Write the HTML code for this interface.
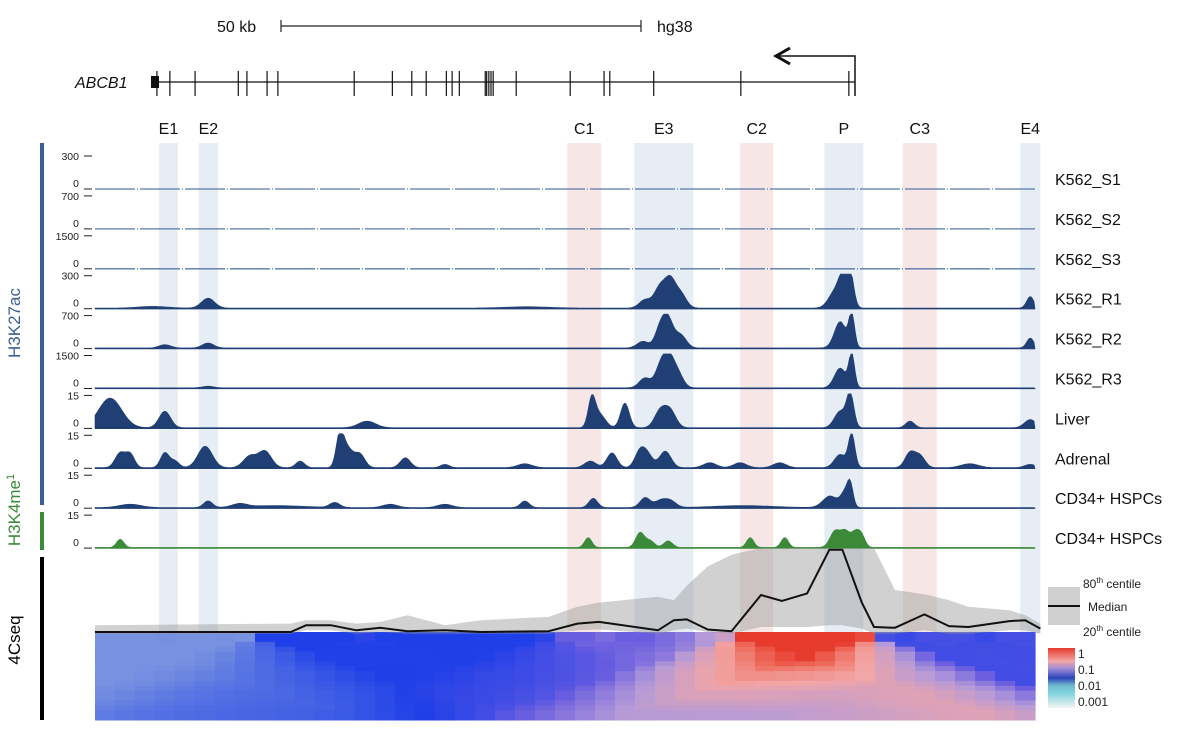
<!DOCTYPE html>
<html><head><meta charset="utf-8"><style>
html,body{margin:0;padding:0;background:#fff}
svg{display:block;font-family:"Liberation Sans",Arial,sans-serif}
</style></head><body>
<svg id="fig" width="1200" height="740" viewBox="0 0 1200 740">
  <g>
    <text x="217" y="32" font-size="16" fill="#111">50 kb</text>
    <line x1="281" y1="26" x2="641" y2="26" stroke="#222" stroke-width="1.2"/>
    <line x1="281" y1="20" x2="281" y2="32" stroke="#222" stroke-width="1.2"/>
    <line x1="641" y1="20" x2="641" y2="32" stroke="#222" stroke-width="1.2"/>
    <text x="657" y="32" font-size="16" fill="#111">hg38</text>
  </g>
  <g id="gene">
    <text x="75" y="88" font-size="16" font-style="italic" fill="#111">ABCB1</text>
    <line x1="152" y1="82" x2="855" y2="82" stroke="#111" stroke-width="1.3"/>
    <rect x="151" y="76" width="8" height="12" fill="#111"/>
    <path d="M855 96 L855 56 L778 56" fill="none" stroke="#111" stroke-width="1.5"/>
    <path d="M790 48 L776 56 L790 64" fill="none" stroke="#111" stroke-width="3"/>
  </g>
  <g id="bands"></g>
  <g id="tracks"></g>
  <g id="fourc"></g>
  <g>
    <rect x="40" y="143" width="4" height="362" fill="#3a5f94"/>
    <rect x="40" y="512" width="4" height="38" fill="#3a8a3a"/>
    <rect x="40" y="557" width="4" height="163" fill="#000"/>
    <text transform="translate(20,323) rotate(-90)" text-anchor="middle" font-size="17" fill="#3a5f94">H3K27ac</text>
    <text transform="translate(20,510) rotate(-90)" text-anchor="middle" font-size="17" fill="#3a8a3a">H3K4me<tspan font-size="11" dy="-6">1</tspan></text>
    <text transform="translate(20,640) rotate(-90)" text-anchor="middle" font-size="17" fill="#000">4Cseq</text>
  </g>
  <g>
    <rect x="1048" y="587" width="32" height="38" fill="#cfcfcf"/>
    <line x1="1048" y1="606" x2="1080" y2="606" stroke="#111" stroke-width="2"/>
    <text x="1083" y="588" font-size="12" fill="#222">80<tspan font-size="8" dy="-5">th</tspan><tspan dy="5"> centile</tspan></text>
    <text x="1088" y="611" font-size="12" fill="#222">Median</text>
    <text x="1083" y="636" font-size="12" fill="#222">20<tspan font-size="8" dy="-5">th</tspan><tspan dy="5"> centile</tspan></text>
    <defs><linearGradient id="cbar" x1="0" y1="0" x2="0" y2="1">
      <stop offset="0" stop-color="#e63a2c"/><stop offset="0.22" stop-color="#f2a6a6"/>
      <stop offset="0.35" stop-color="#9a8ad8"/><stop offset="0.5" stop-color="#2a44b8"/>
      <stop offset="0.62" stop-color="#6fb8d0"/><stop offset="0.75" stop-color="#7fd4dc"/>
      <stop offset="1" stop-color="#f4f4f4"/></linearGradient></defs>
    <rect x="1048" y="648" width="27" height="60" fill="url(#cbar)"/>
    <text x="1078" y="658" font-size="12" fill="#222">1</text>
    <text x="1078" y="674" font-size="12" fill="#222">0.1</text>
    <text x="1078" y="690" font-size="12" fill="#222">0.01</text>
    <text x="1078" y="706" font-size="12" fill="#222">0.001</text>
  </g>
</svg>
<script>
// ---------- data ----------
const exonKb = [8.6,10.4,13.9,19.9,21.1,23.9,25.4,36.0,41.3,44.0,46.0,48.8,49.6,50.6,54.2,54.4,54.7,55.0,55.3,58.5,66.0,70.7,71.5,77.6,89.7,104.7];
const bandNames = ["E1","E2","C1","E3","C2","P","C3","E4"];
const bandStart = [8.9,14.4,65.6,74.9,89.6,101.3,112.2,128.5];
const bandEnd   = [11.5,17.1,70.3,83.1,94.2,106.7,116.9,131.3];
const bandKind  = ["e","e","c","e","c","e","c","e"];
const trackNames = ["K562_S1","K562_S2","K562_S3","K562_R1","K562_R2","K562_R3","Liver","Adrenal","CD34+ HSPCs","CD34+ HSPCs"];
const trackMax   = ["300","700","1500","300","700","1500","15","15","15","15"];
const trackEmpty = [true,true,true,false,false,false,false,false,false,false];
const trackGreen = [false,false,false,false,false,false,false,false,false,true];
const peaksR1 = [[15.7,0.3,0.9],[76.4,0.25,0.8],[78.5,0.65,0.8],[79.9,0.75,0.7],[81.3,0.45,0.8],[102.8,0.5,0.9],[103.9,0.8,0.6],[104.9,1.0,0.5],[129.9,0.35,0.5],[8,0.05,2],[60,0.04,3]];
const peaksR2 = [[9.7,0.1,0.8],[15.7,0.15,0.8],[76.1,0.2,0.8],[78.5,0.6,0.7],[79.6,0.8,0.7],[81.3,0.4,0.8],[103.5,0.8,0.8],[105.1,1.0,0.4],[129.9,0.3,0.5]];
const peaksR3 = [[15.7,0.05,0.8],[76.4,0.3,0.8],[78.5,0.6,0.7],[79.6,0.8,0.7],[80.8,0.5,0.8],[103.5,0.6,0.8],[105.1,1.0,0.4]];
const peaksLiver = [[2.1,0.9,1.6],[9.7,0.5,0.8],[37.8,0.2,1.2],[69.0,0.85,0.5],[70.1,0.4,0.8],[73.6,0.75,0.6],[78.5,0.5,0.8],[79.9,0.5,0.8],[103.5,0.5,0.8],[104.9,1.0,0.5],[113.2,0.2,0.6],[129.9,0.25,0.8]];
const peaksAdrenal = [[3.5,0.45,0.7],[4.9,0.4,0.6],[9.7,0.45,0.6],[11.1,0.2,0.6],[15.3,0.65,1.0],[21.5,0.35,0.9],[23.6,0.5,0.9],[28.5,0.2,0.6],[34.0,0.9,0.5],[35.0,0.6,0.8],[36.8,0.4,0.7],[43.1,0.3,0.7],[48.6,0.1,0.6],[59.7,0.12,1.0],[68.8,0.2,0.8],[71.8,0.45,0.7],[75.7,0.5,0.7],[76.8,0.35,0.7],[79.2,0.5,0.8],[85.4,0.15,0.9],[89.6,0.15,0.9],[95.1,0.15,0.9],[103.5,0.4,0.8],[105.1,1.0,0.45],[113.2,0.45,0.7],[114.6,0.35,0.7],[121.5,0.12,1.2],[129.9,0.1,0.8]];
const peaksCD34 = [[4.9,0.1,1.5],[15.7,0.2,0.6],[20.1,0.1,1],[33.3,0.15,0.7],[41,0.1,1],[48.6,0.1,1],[59.7,0.2,0.6],[69.2,0.28,0.6],[76.4,0.3,0.7],[78.5,0.2,0.8],[79.9,0.2,0.8],[102.1,0.35,1.0],[104.2,0.45,0.6],[104.9,0.6,0.4],[90,0.06,4],[25,0.06,4]];
const peaksK4 = [[3.5,0.25,0.5],[68.5,0.3,0.5],[75.7,0.45,0.6],[77.1,0.2,0.6],[79.6,0.2,0.6],[91.0,0.3,0.5],[95.8,0.3,0.5],[102.8,0.5,0.7],[104.2,0.45,0.6],[105.6,0.45,0.6],[106.5,0.3,0.5]];
const trackPeaks = [[],[],[],peaksR1,peaksR2,peaksR3,peaksLiver,peaksAdrenal,peaksCD34,peaksK4];
// 4C-seq summary (kb, normalized units)
const c4Kb     = [0,27.2,29.3,32.8,36.3,39.7,43.4,48.6,53.6,63,67,70,78.2,80.4,82.2,85.1,88.4,92.5,95.4,98.9,102,103.8,106.5,108.2,111.1,115.2,118.6,121.3,127,129.2,131.3];
const c4Median = [0,0,0.08,0.08,0.02,0.05,0.01,0.02,0,0.01,0.1,0.12,0.02,0.14,0.15,0.03,0.01,0.44,0.37,0.46,0.98,0.98,0.35,0.06,0.05,0.21,0.07,0.06,0.13,0.14,0.04];
const c4Upper  = [0.08,0.1,0.14,0.14,0.1,0.12,0.2,0.08,0.14,0.18,0.3,0.35,0.42,0.38,0.55,0.78,0.92,1.0,1.0,1.0,1.0,1.0,1.0,1.0,0.5,0.45,0.38,0.3,0.26,0.2,0.1];
const c4Lower  = [-0.02,-0.02,0.02,0.02,-0.02,0,-0.02,-0.02,-0.02,-0.02,0.02,0.03,-0.02,0.02,0.04,0,-0.02,0.06,0.06,0.06,0.08,0.08,0.04,-0.02,-0.02,0.02,-0.02,-0.02,0.02,0.02,-0.02];
const heatProfile = [0.1,0.1,0.1,0.12,0.1,0.1,0.12,0.1,0.3,0.3,0.3,0.3,0.3,0.32,0.3,0.3,0.3,0.3,0.3,0.3,0.3,0.3,0.32,0.42,0.42,0.45,0.42,0.42,0.45,0.48,0.55,0.6,1,1,1,1,1,1,0.95,0.36,0.34,0.36,0.36,0.36,0.34,0.36,0.36];

// ---------- scales ----------
const X0 = 95, PXKB = 7.2, XEND = 1035;
const xs = kb => X0 + kb*PXKB;
const NS = "http://www.w3.org/2000/svg";
function mk(tag, attrs, parent){ const e=document.createElementNS(NS,tag); for(const k in attrs) e.setAttribute(k,attrs[k]); parent.appendChild(e); return e; }

// exons
const gene = document.getElementById('gene');
exonKb.forEach(k => {
  const l = mk('line',{x1:xs(k),y1:71,x2:xs(k),y2:96,stroke:'#111','stroke-width':1.2},gene);
  
  
});

// bands
const bands = document.getElementById('bands');
bandNames.forEach((n,i) => {
  const x1 = xs(bandStart[i]), x2 = xs(bandEnd[i]);
  const r = mk('rect',{x:x1,y:143,width:x2-x1,height:490,fill:bandKind[i]==='e'?'#e6edf5':'#f6e6e6'},bands);
  
  
  const t = mk('text',{x:(x1+x2)/2,y:134,'text-anchor':'middle','font-size':16,fill:'#111'},bands);
  t.textContent = n;
  
  
});

// tracks
const tracks = document.getElementById('tracks');
const base0 = 189, step = 39.9, TH = 33;
trackNames.forEach((name,i) => {
  const b = base0 + i*step;
  const g = mk('g',{},tracks);
  
  
  const col = trackGreen[i] ? '#3a8a3a' : '#1f3f75';
  mk('text',{x:79,y:b-2,'text-anchor':'end','font-size':10.5,fill:'#222'},g).textContent='0';
  mk('text',{x:79,y:b-TH+4,'text-anchor':'end','font-size':10.5,fill:'#222'},g).textContent=trackMax[i];
  mk('line',{x1:84,y1:b,x2:92,y2:b,stroke:'#222','stroke-width':1},g);
  mk('line',{x1:84,y1:b-TH,x2:92,y2:b-TH,stroke:'#222','stroke-width':1},g);
  const lab = mk('text',{x:1055,y:b-4,'font-size':16,fill:'#111'},g);
  lab.textContent = name;
  
  
  if (trackEmpty[i]) {
    mk('line',{x1:X0,y1:b,x2:XEND,y2:b,stroke:'#5a78a8','stroke-width':1.3,'stroke-dasharray':'40 2 1 2'},g);
    return;
  }
  const pk = trackPeaks[i];
  let d = 'M'+X0+' '+b;
  for (let px=X0; px<=XEND; px+=1.5) {
    const kb=(px-X0)/PXKB; let v=0.02;
    pk.forEach(p => { const z=(kb-p[0])/p[2]; v += p[1]*Math.exp(-0.5*z*z); });
    v=Math.min(v,1.05);
    d += ' L'+px.toFixed(1)+' '+(b-v*TH).toFixed(1);
  }
  d += ' L'+XEND+' '+b+' Z';
  const path = mk('path',{d:d,fill:col,stroke:col,'stroke-width':0.6},g);
  
  
  mk('line',{x1:X0,y1:b,x2:XEND,y2:b,stroke:col,'stroke-width':1.3},g);
});

// 4C panel
const fc = document.getElementById('fourc');
const C4B = 632, C4H = 84;
const cy = v => C4B - v*C4H;
const stops=[[0,[142,164,228]],[0.15,[111,138,224]],[0.3,[31,63,232]],[0.42,[106,94,224]],[0.55,[180,154,216]],[0.7,[242,166,166]],[0.85,[238,106,90]],[1,[230,58,44]]];
function cmap(v){ v=Math.max(0,Math.min(1,v)); for(let k=1;k<stops.length;k++){ if(v<=stops[k][0]){ const a=stops[k-1],c=stops[k],t=(v-a[0])/(c[0]-a[0]); return 'rgb('+a[1].map((q,j)=>Math.round(q+(c[1][j]-q)*t)).join(',')+')'; } } return 'rgb(230,58,44)'; }
const hm = mk('g',{},fc);


const NR=18, colW=(XEND-X0)/heatProfile.length, rowH=88/NR;
for(let r=0;r<NR;r++){
  const hw = r*0.75;
  for(let c=0;c<heatProfile.length;c++){
    let s=0,n=0;
    for(let k=Math.ceil(c-hw);k<=Math.floor(c+hw);k++){ if(k>=0&&k<heatProfile.length){s+=heatProfile[k];n++;} }
    const v = n? s/n : heatProfile[c];
    const cell = mk('rect',{x:(X0+c*colW).toFixed(1),y:(C4B+r*rowH).toFixed(1),width:(colW+0.6).toFixed(1),height:(rowH+0.5).toFixed(1),fill:cmap(v)},hm);
    
    
  }
}
let bd='M'+xs(c4Kb[0])+' '+cy(c4Upper[0]);
c4Kb.forEach((k,i)=>{ bd+=' L'+xs(k).toFixed(1)+' '+cy(c4Upper[i]).toFixed(1); });
for(let i=c4Kb.length-1;i>=0;i--) bd+=' L'+xs(c4Kb[i]).toFixed(1)+' '+cy(c4Lower[i]).toFixed(1);
bd+=' Z';
const band = mk('path',{d:bd,fill:'#9a9a9a','fill-opacity':0.45},fc);


let md='';
c4Kb.forEach((k,i)=>{ md+=(i?' L':'M')+xs(k).toFixed(1)+' '+cy(c4Median[i]).toFixed(1); });
const med = mk('path',{d:md,fill:'none',stroke:'#111','stroke-width':2,'stroke-linejoin':'round'},fc);


</script>
</body></html>
